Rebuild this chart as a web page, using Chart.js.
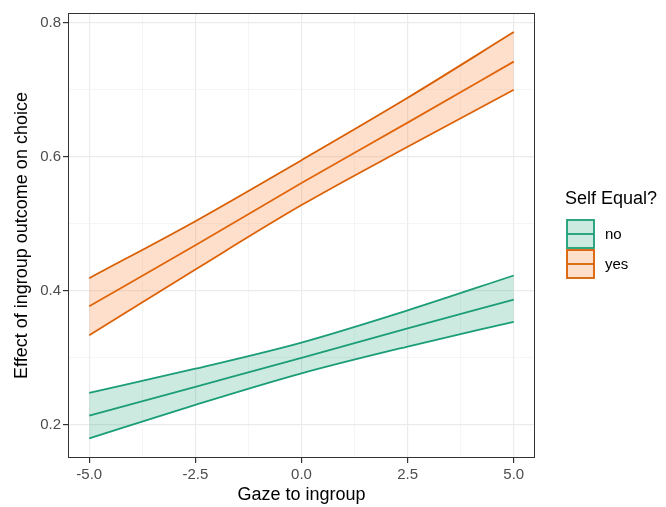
<!DOCTYPE html>
<html>
<head>
<meta charset="utf-8">
<script src="https://cdn.jsdelivr.net/npm/chart.js@4"></script>
<style>
  html, body { margin: 0; padding: 0; background: #fff; }
  #wrap { width: 666px; height: 507px; }
</style>
</head>
<body>
<div id="wrap"><canvas id="chart" width="666" height="507"></canvas></div>
<script>
// values
const gaze = [-5, -2.5, 0, 2.5, 5];
const groups = ["no", "yes"];
const noFit = [0.214, 0.257, 0.300, 0.344, 0.387];
const noUpper = [0.248, 0.284, 0.323, 0.371, 0.423];
const noLower = [0.180, 0.230, 0.277, 0.317, 0.354];
const yesFit = [0.377, 0.468, 0.561, 0.651, 0.742];
const yesUpper = [0.419, 0.504, 0.595, 0.688, 0.786];
const yesLower = [0.334, 0.432, 0.528, 0.615, 0.700];
const xTicks = [-5, -3.75, -2.5, -1.25, 0, 1.25, 2.5, 3.75, 5];
const xLabels = [-5, -2.5, 0, 2.5, 5];
const yTicks = [0.2, 0.3, 0.4, 0.5, 0.6, 0.7, 0.8];
const yLabels = [0.2, 0.4, 0.6, 0.8];

const GREEN = "#1B9E77";
const ORANGE = "#D95F02";
const GREEN_FILL = "rgba(27,158,119,0.22)";
const ORANGE_FILL = "rgba(249,120,40,0.24)";
const FONT = "'Liberation Sans', Arial, sans-serif";

const pts = (ys) => gaze.map((x, i) => ({ x, y: ys[i] }));

const isMajor = (list, v) => list.some((t) => Math.abs(t - v) < 1e-6);

const line = (label, data, color, fill) => ({
  label,
  data: pts(data),
  borderColor: color,
  borderWidth: 1.8,
  pointRadius: 0,
  backgroundColor: fill || "transparent",
  fill: fill ? "+1" : false,
  cubicInterpolationMode: "monotone",
});

const panelBorder = {
  id: "panelBorder",
  afterDatasetsDraw(chart) {
    const { ctx, chartArea: a } = chart;
    ctx.save();
    ctx.strokeStyle = "#333333";
    ctx.lineWidth = 1;
    ctx.strokeRect(a.left + 0.5, a.top + 0.5, a.right - a.left - 1, a.bottom - a.top - 1);
    ctx.restore();
  },
};

const legendBox = {
  id: "legendBox",
  afterDraw(chart) {
    const ctx = chart.ctx;
    const colors = [GREEN, ORANGE];
    const fills = [GREEN_FILL, ORANGE_FILL];
    ctx.save();
    ctx.fillStyle = "#000";
    ctx.font = `18px ${FONT}`;
    ctx.textBaseline = "middle";
    ctx.fillText("Self Equal?", 565, 199);
    groups.forEach((g, i) => {
      const top = 220 + i * 30;
      ctx.fillStyle = fills[i];
      ctx.fillRect(567, top, 27, 28);
      ctx.strokeStyle = colors[i];
      ctx.lineWidth = 1.8;
      ctx.strokeRect(567, top, 27, 28);
      ctx.beginPath();
      ctx.moveTo(567, top + 14);
      ctx.lineTo(594, top + 14);
      ctx.stroke();
      ctx.fillStyle = "#000";
      ctx.font = `15px ${FONT}`;
      ctx.fillText(g, 605, top + 15);
    });
    ctx.restore();
  },
};

new Chart(document.getElementById("chart"), {
  type: "line",
  data: {
    datasets: [
      line("no upper", noUpper, GREEN, GREEN_FILL),
      line("no lower", noLower, GREEN),
      line("no", noFit, GREEN),
      line("yes upper", yesUpper, ORANGE, ORANGE_FILL),
      line("yes lower", yesLower, ORANGE),
      line("yes", yesFit, ORANGE),
    ],
  },
  options: {
    responsive: false,
    animation: false,
    layout: { padding: { top: 13, right: 131, left: 0, bottom: 0 } },
    plugins: { legend: { display: false }, tooltip: { enabled: false } },
    scales: {
      x: {
        type: "linear",
        min: -5.5,
        max: 5.5,
        afterBuildTicks: (s) => { s.ticks = xTicks.map((v) => ({ value: v })); },
        afterFit: (s) => { s.height = 49; },
        border: { display: false },
        grid: {
          color: (c) => (isMajor(xLabels, c.tick.value) ? "#EBEBEB" : "#F3F3F3"),
          lineWidth: (c) => (isMajor(xLabels, c.tick.value) ? 1.2 : 0.8),
          tickColor: (c) => (isMajor(xLabels, c.tick.value) ? "#333333" : "transparent"),
          tickLength: 5,
        },
        ticks: {
          autoSkip: false,
          maxRotation: 0,
          padding: 3,
          color: "#4D4D4D",
          font: { family: FONT, size: 15 },
          callback: (v) => (isMajor(xLabels, v) ? v.toFixed(1) : ""),
        },
        title: {
          display: true,
          text: "Gaze to ingroup",
          color: "#000",
          font: { family: FONT, size: 18 },
          padding: { top: 2, bottom: 1 },
        },
      },
      y: {
        type: "linear",
        min: 0.1508,
        max: 0.8145,
        afterBuildTicks: (s) => { s.ticks = yTicks.map((v) => ({ value: v })); },
        afterFit: (s) => { s.width = 68; },
        border: { display: false },
        grid: {
          color: (c) => (isMajor(yLabels, c.tick.value) ? "#EBEBEB" : "#F3F3F3"),
          lineWidth: (c) => (isMajor(yLabels, c.tick.value) ? 1.2 : 0.8),
          tickColor: (c) => (isMajor(yLabels, c.tick.value) ? "#333333" : "transparent"),
          tickLength: 5,
        },
        ticks: {
          autoSkip: false,
          padding: 2,
          color: "#4D4D4D",
          font: { family: FONT, size: 15 },
          callback: (v) => (isMajor(yLabels, v) ? v.toFixed(1) : ""),
        },
        title: {
          display: true,
          text: "Effect of ingroup outcome on choice",
          color: "#000",
          font: { family: FONT, size: 18 },
          padding: { top: 11, bottom: 4 },
        },
      },
    },
  },
  plugins: [panelBorder, legendBox],
});
</script>
</body>
</html>
